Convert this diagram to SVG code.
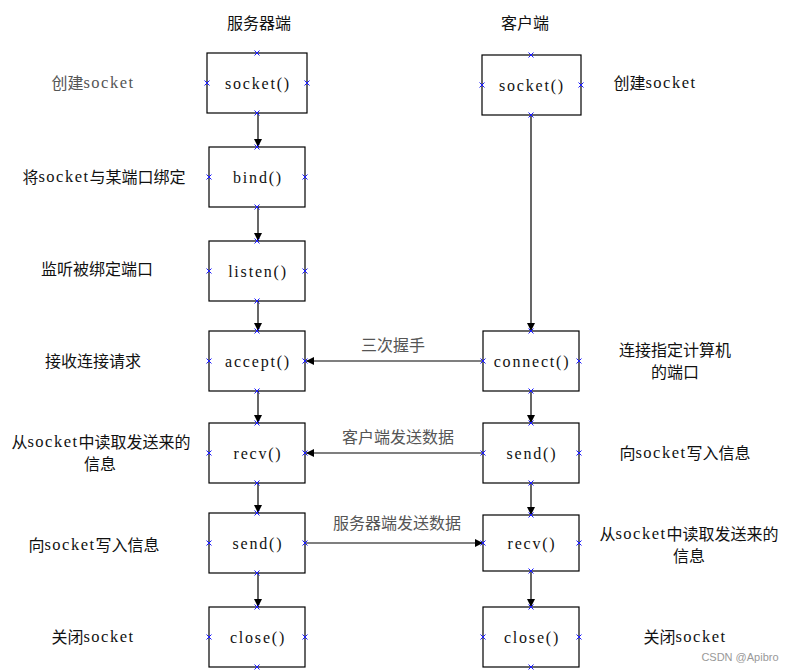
<svg xmlns="http://www.w3.org/2000/svg" width="793" height="671" viewBox="0 0 793 671">
<style>
.box{fill:#fff;stroke:#000;stroke-width:1.2}
.t{font-family:"Liberation Serif","DejaVu Serif",serif;font-size:16px;letter-spacing:1.8px;fill:#111;text-anchor:middle;dominant-baseline:central}
.lbl{font-family:"Noto Sans CJK SC",sans-serif;font-size:16px;fill:#111;text-anchor:middle;dominant-baseline:central}
.lt{font-family:"Liberation Serif","DejaVu Serif",serif;font-size:16.5px;letter-spacing:1.5px}
.g{fill:#555}
.c{stroke:#000;stroke-width:1.2;fill:none;marker-end:url(#ah)}
.x{stroke:#1a1aff;stroke-width:1}
</style>
<defs>
<marker id="ah" markerWidth="10" markerHeight="10" refX="9" refY="5" orient="auto" markerUnits="userSpaceOnUse">
<path d="M1,1 L9,5 L1,9 Z" fill="#000"/>
</marker>
<g id="xm"><path d="M-2.5,-2.5 L2.5,2.5 M-2.5,2.5 L2.5,-2.5" class="x"/></g>
</defs>
<rect width="793" height="671" fill="#fff"/>
<text class="lbl" x="259" y="22">服务器端</text>
<text class="lbl" x="525" y="22">客户端</text>

<g id="connectors">
<path class="c" d="M258,113 L258,147"/>
<path class="c" d="M258,207 L258,241"/>
<path class="c" d="M258,301 L258,331"/>
<path class="c" d="M258,391 L258,423"/>
<path class="c" d="M258,483 L258,513"/>
<path class="c" d="M258,573 L258,607"/>
<path class="c" d="M531,115 L531,331"/>
<path class="c" d="M531,391 L531,423"/>
<path class="c" d="M531,483 L531,515"/>
<path class="c" d="M531,571 L531,607"/>
<path class="c" d="M483,361 L306,361"/>
<path class="c" d="M483,453 L306,453"/>
<path class="c" d="M306,543 L483,543"/>
<text class="lbl g" x="393" y="344">三次握手</text>
<text class="lbl g" x="398" y="436">客户端发送数据</text>
<text class="lbl g" x="397" y="522">服务器端发送数据</text>
</g>

<g id="s-socket"><rect class="box" x="207" y="53" width="100" height="60"/><text class="t" x="258" y="83">socket()</text>
<use href="#xm" x="257" y="53"/><use href="#xm" x="257" y="113"/><use href="#xm" x="207" y="83"/><use href="#xm" x="307" y="83"/></g>
<g id="s-bind"><rect class="box" x="209" y="147" width="96" height="60"/><text class="t" x="258" y="177">bind()</text>
<use href="#xm" x="257" y="147"/><use href="#xm" x="257" y="207"/><use href="#xm" x="209" y="177"/><use href="#xm" x="305" y="177"/></g>
<g id="s-listen"><rect class="box" x="209" y="241" width="96" height="60"/><text class="t" x="258" y="271">listen()</text>
<use href="#xm" x="257" y="241"/><use href="#xm" x="257" y="301"/><use href="#xm" x="209" y="271"/><use href="#xm" x="305" y="271"/></g>
<g id="s-accept"><rect class="box" x="209" y="331" width="96" height="60"/><text class="t" x="258" y="361">accept()</text>
<use href="#xm" x="257" y="331"/><use href="#xm" x="257" y="391"/><use href="#xm" x="209" y="361"/><use href="#xm" x="305" y="361"/></g>
<g id="s-recv"><rect class="box" x="209" y="423" width="96" height="60"/><text class="t" x="258" y="453">recv()</text>
<use href="#xm" x="257" y="423"/><use href="#xm" x="257" y="483"/><use href="#xm" x="209" y="453"/><use href="#xm" x="305" y="453"/></g>
<g id="s-send"><rect class="box" x="209" y="513" width="96" height="60"/><text class="t" x="258" y="543">send()</text>
<use href="#xm" x="257" y="513"/><use href="#xm" x="257" y="573"/><use href="#xm" x="209" y="543"/><use href="#xm" x="305" y="543"/></g>
<g id="s-close"><rect class="box" x="209" y="607" width="96" height="60"/><text class="t" x="258" y="637">close()</text>
<use href="#xm" x="257" y="607"/><use href="#xm" x="257" y="667"/><use href="#xm" x="209" y="637"/><use href="#xm" x="305" y="637"/></g>

<g id="c-socket"><rect class="box" x="482" y="55" width="99" height="60"/><text class="t" x="532" y="85">socket()</text>
<use href="#xm" x="531" y="55"/><use href="#xm" x="531" y="115"/><use href="#xm" x="482" y="85"/><use href="#xm" x="581" y="85"/></g>
<g id="c-connect"><rect class="box" x="483" y="331" width="96" height="60"/><text class="t" x="532" y="361">connect()</text>
<use href="#xm" x="531" y="331"/><use href="#xm" x="531" y="391"/><use href="#xm" x="483" y="361"/><use href="#xm" x="579" y="361"/></g>
<g id="c-send"><rect class="box" x="483" y="423" width="96" height="60"/><text class="t" x="532" y="453">send()</text>
<use href="#xm" x="531" y="423"/><use href="#xm" x="531" y="483"/><use href="#xm" x="483" y="453"/><use href="#xm" x="579" y="453"/></g>
<g id="c-recv"><rect class="box" x="483" y="515" width="96" height="56"/><text class="t" x="532" y="543">recv()</text>
<use href="#xm" x="531" y="515"/><use href="#xm" x="531" y="571"/><use href="#xm" x="483" y="543"/><use href="#xm" x="579" y="543"/></g>
<g id="c-close"><rect class="box" x="483" y="607" width="96" height="60"/><text class="t" x="532" y="637">close()</text>
<use href="#xm" x="531" y="607"/><use href="#xm" x="531" y="667"/><use href="#xm" x="483" y="637"/><use href="#xm" x="579" y="637"/></g>

<g id="labels-left">
<text class="lbl g" x="93" y="82">创建<tspan class="lt">socket</tspan></text>
<text class="lbl" x="104" y="176">将<tspan class="lt">socket</tspan>与某端口绑定</text>
<text class="lbl" x="97" y="268">监听被绑定端口</text>
<text class="lbl" x="93" y="360">接收连接请求</text>
<text class="lbl" x="101" y="441">从<tspan class="lt">socket</tspan>中读取发送来的</text>
<text class="lbl" x="100" y="463">信息</text>
<text class="lbl" x="94" y="544">向<tspan class="lt">socket</tspan>写入信息</text>
<text class="lbl" x="93" y="636">关闭<tspan class="lt">socket</tspan></text>
</g>
<g id="labels-right">
<text class="lbl" x="655" y="82">创建<tspan class="lt">socket</tspan></text>
<text class="lbl" x="675" y="349">连接指定计算机</text>
<text class="lbl" x="675" y="371">的端口</text>
<text class="lbl" x="685" y="452">向<tspan class="lt">socket</tspan>写入信息</text>
<text class="lbl" x="689" y="533">从<tspan class="lt">socket</tspan>中读取发送来的</text>
<text class="lbl" x="689" y="555">信息</text>
<text class="lbl" x="685" y="636">关闭<tspan class="lt">socket</tspan></text>
</g>
<text x="740" y="657" font-family="Liberation Sans,sans-serif" font-size="11" fill="#999" text-anchor="middle" dominant-baseline="central">CSDN @Apibro</text>
</svg>
